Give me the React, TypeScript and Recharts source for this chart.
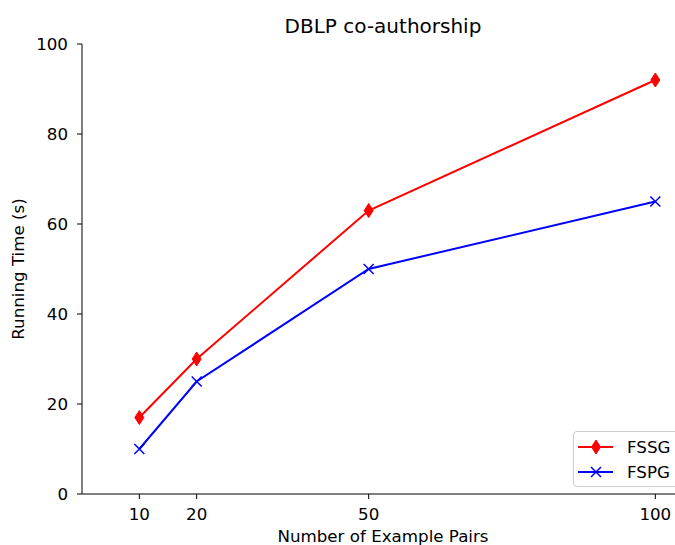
import React from 'react';
import { LineChart, Line, XAxis, YAxis, Legend } from 'recharts';

const pairs = [10, 20, 50, 100];
const fssgTimes = [17, 30, 63, 92];
const fspgTimes = [10, 25, 50, 65];
const xTicks = [10, 20, 50, 100];
const yTicks = [0, 20, 40, 60, 80, 100];
const seriesOrder = ['FSSG', 'FSPG'];
const title = 'DBLP co-authorship';
const xLabel = 'Number of Example Pairs';
const yLabel = 'Running Time (s)';

const data = pairs.map((p, i) => ({ pairs: p, FSSG: fssgTimes[i], FSPG: fspgTimes[i] }));

const FONT = '"DejaVu Sans", sans-serif';
const FS = 16.7;
const RED = '#ff0000';
const BLUE = '#0000ff';

const Diamond = (props: any) => {
  const { cx, cy } = props;
  if (cx == null || cy == null) return null;
  const w = 4.5, h = 7;
  return (
    <path
      d={`M${cx},${cy - h}L${cx + w},${cy}L${cx},${cy + h}L${cx - w},${cy}Z`}
      fill={RED}
      stroke={RED}
      strokeWidth={1}
    />
  );
};

const Cross = (props: any) => {
  const { cx, cy } = props;
  if (cx == null || cy == null) return null;
  const s = 5;
  return (
    <path
      d={`M${cx - s},${cy - s}L${cx + s},${cy + s}M${cx - s},${cy + s}L${cx + s},${cy - s}`}
      stroke={BLUE}
      strokeWidth={1.5}
      fill="none"
    />
  );
};

const renderLegend = (props: any) => {
  const payload = [...(props.payload || [])].sort(
    (a: any, b: any) => seriesOrder.indexOf(a.value) - seriesOrder.indexOf(b.value)
  );
  return (
    <div
      style={{
        border: '1px solid #cccccc',
        borderRadius: 4,
        background: 'rgba(255,255,255,0.8)',
        boxSizing: 'border-box',
        width: 106,
        height: 56,
        paddingTop: 2,
        fontFamily: FONT,
        fontSize: FS,
        color: '#000',
      }}
    >
      {payload.map((entry: any) => {
        const isRed = entry.value === 'FSSG';
        const c = isRed ? RED : BLUE;
        return (
          <div key={entry.value} style={{ display: 'flex', alignItems: 'center', height: 25 }}>
            <svg width={50} height={18} style={{ marginLeft: 3 }}>
              <line x1={1} y1={9} x2={36} y2={9} stroke={c} strokeWidth={2} />
              {isRed ? <Diamond cx={19} cy={9} /> : <Cross cx={19} cy={9} />}
            </svg>
            <span>{entry.value}</span>
          </div>
        );
      })}
    </div>
  );
};

export default function App() {
  return (
    <div
      style={{
        position: 'absolute',
        left: 0,
        top: 0,
        width: 675,
        height: 545,
        overflow: 'hidden',
        background: '#fff',
      }}
    >
      <div
        style={{
          position: 'absolute',
          left: 82,
          width: 602,
          top: 14,
          textAlign: 'center',
          fontFamily: FONT,
          fontSize: 20,
          color: '#000',
          lineHeight: '24px',
        }}
      >
        {title}
      </div>
      <LineChart
        width={700}
        height={545}
        data={data}
        margin={{ top: 44, right: 16, bottom: 0, left: 0 }}
      >
        <XAxis
          xAxisId="top"
          orientation="top"
          dataKey="pairs"
          type="number"
          domain={[0, 105]}
          height={0}
          tick={false}
          tickLine={false}
          axisLine={{ stroke: '#000', strokeWidth: 1 }}
        />
        <XAxis
          dataKey="pairs"
          type="number"
          domain={[0, 105]}
          ticks={xTicks}
          height={51}
          tickSize={5}
          tickMargin={9}
          axisLine={{ stroke: '#000', strokeWidth: 1 }}
          tickLine={{ stroke: '#000' }}
          tick={{ fill: '#000', fontFamily: FONT, fontSize: FS }}
          label={{
            value: xLabel,
            position: 'insideBottom',
            offset: 3.5,
            style: { fill: '#000', fontFamily: FONT, fontSize: FS },
          }}
        />
        <YAxis
          type="number"
          domain={[0, 100]}
          ticks={yTicks}
          width={82}
          tickSize={5}
          tickMargin={9}
          axisLine={{ stroke: '#000', strokeWidth: 1 }}
          tickLine={{ stroke: '#000' }}
          tick={{ fill: '#000', fontFamily: FONT, fontSize: FS }}
          label={{
            value: yLabel,
            angle: -90,
            position: 'insideLeft',
            offset: 18,
            style: { textAnchor: 'middle', fill: '#000', fontFamily: FONT, fontSize: FS },
          }}
        />
        <Legend
          layout="horizontal"
          verticalAlign="middle"
          align="center"
          content={renderLegend}
          wrapperStyle={{ position: 'absolute', left: 573, top: 431, width: 106, height: 56 }}
        />
        <Line
          dataKey="FSSG"
          stroke={RED}
          strokeWidth={2}
          dot={<Diamond />}
          activeDot={false}
          isAnimationActive={false}
        />
        <Line
          dataKey="FSPG"
          stroke={BLUE}
          strokeWidth={2}
          dot={<Cross />}
          activeDot={false}
          isAnimationActive={false}
        />
      </LineChart>
    </div>
  );
}
